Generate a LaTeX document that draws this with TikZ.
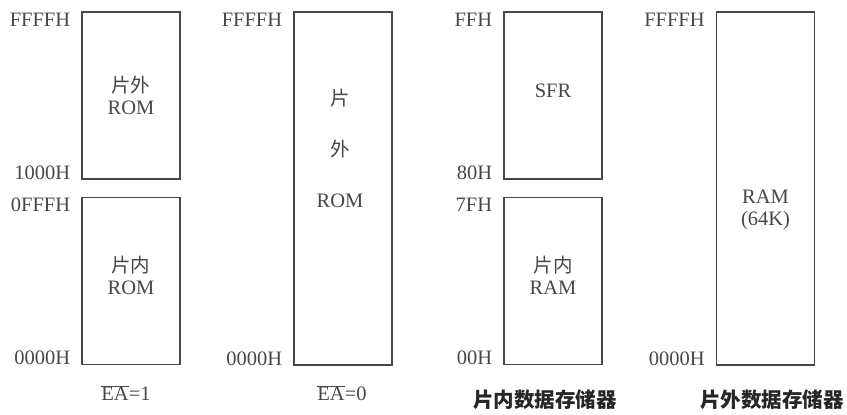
\documentclass[tikz,border=0pt]{standalone}
\usepackage{fontspec}
\setmainfont{Liberation Serif}
\newfontfamily\cjk{Noto Sans CJK SC}
\usetikzlibrary{positioning}
\colorlet{ink}{black!72}
\newcommand{\zh}[1]{{\cjk\fontsize{19.5}{22}\selectfont #1}}

\begin{document}
\begin{tikzpicture}[x=1pt,y=1pt,node distance=11pt,
  mem/.style={draw=ink,line width=1.2pt,minimum width=98pt,inner sep=0pt},
  half/.style={mem,minimum height=167pt},
  full/.style={mem,minimum height=353pt},
  addr/.style={text=ink,inner sep=0pt,font=\fontsize{20.5}{22}\selectfont},
  txt/.style={text=ink,align=center,inner sep=0pt,font=\fontsize{20.5}{22}\selectfont},
  memtitle/.style={text=black!85,inner sep=0pt,font=\cjk\bfseries\fontsize{20.5}{22}\selectfont}]
  \useasboundingbox (0,0) rectangle (847,415);
  % program memory, EA=1
  \node[half] (romhi) at (131,319.5) {};
  \node[half,below=17pt of romhi] (romlo) {};
  \node[addr,left=of romhi.north west,anchor=north east,yshift=-1.5pt] (a1) {FFFFH};
  \node[addr,left=of romhi.south west,anchor=base east] (a2) {1000H};
  \node[addr,left=of romlo.north west,anchor=north east,yshift=-1.5pt] (a3) {0FFFH};
  \node[addr,left=of romlo.south west,anchor=base east] (a4) {0000H};
  \node[txt] (t1) at (romhi) {\zh{片外}\\ROM};
  \node[txt,yshift=5pt] (t2) at (romlo) {\zh{片内}\\ROM};
  \node[txt] (c1) at (126,22) {$\overline{\mbox{EA}}$=1};
  % program memory, EA=0
  \node[full] (rom) at (343,226.5) {};
  \node[addr,left=of rom.north west,anchor=north east,yshift=-1.5pt] (b1) {FFFFH};
  \node[addr,left=of rom.south west,anchor=base east] (b2) {0000H};
  \node[txt,font=\fontsize{20.5}{51}\selectfont] (t3) at (340,267) {\zh{片}\\\zh{外}\\ROM};
  \node[txt] (c2) at (342,22) {$\overline{\mbox{EA}}$=0};
  % internal data memory
  \node[half] (sfr) at (553,319.5) {};
  \node[half,below=17pt of sfr] (iram) {};
  \node[addr,left=of sfr.north west,anchor=north east,yshift=-1.5pt] (d1) {FFH};
  \node[addr,left=of sfr.south west,anchor=base east] (d2) {80H};
  \node[addr,left=of iram.north west,anchor=north east,yshift=-1.5pt] (d3) {7FH};
  \node[addr,left=of iram.south west,anchor=base east] (d4) {00H};
  \node[txt,yshift=5pt] (t4) at (sfr) {SFR};
  \node[txt,yshift=5pt] (t5) at (iram) {\zh{片内}\\RAM};
  \node[memtitle] (c3) at (545,15) {片内数据存储器};
  % external data memory
  \node[full] (xram) at (765.5,226.5) {};
  \node[addr,left=of xram.north west,anchor=north east,yshift=-1.5pt] (e1) {FFFFH};
  \node[addr,left=of xram.south west,anchor=base east] (e2) {0000H};
  \node[txt,yshift=-21pt] (t6) at (xram) {RAM\\(64K)};
  \node[memtitle] (c4) at (772,15) {片外数据存储器};
\end{tikzpicture}
\end{document}
